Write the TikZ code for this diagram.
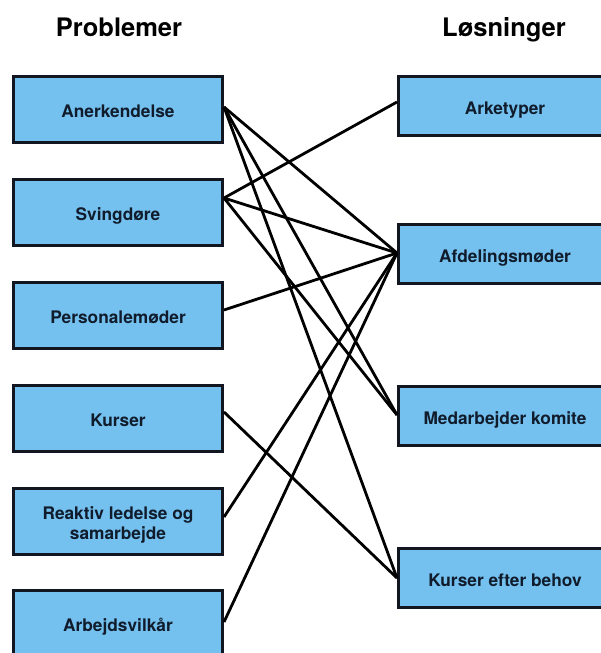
\documentclass[tikz,border=0pt]{standalone}
\usepackage{fontspec}
\setmainfont{TeX Gyre Heros}
\definecolor{boxfill}{RGB}{116,192,238}
\definecolor{boxline}{RGB}{18,22,32}
\definecolor{boxtext}{RGB}{16,28,44}
\begin{document}
\begin{tikzpicture}[x=1pt,y=-1pt,
  box/.style={draw=boxline, line width=3pt, fill=boxfill, inner sep=0pt,
    text=boxtext, font=\fontsize{17.3}{20}\selectfont\bfseries, align=center},
  lbox/.style={box, minimum width=209pt, minimum height=66pt},
  rbox/.style={box, minimum width=213pt, minimum height=59pt},
  oneline/.style={text height=16pt, text depth=0pt},
  coltitle/.style={font=\fontsize{25.5}{28}\selectfont\bfseries, anchor=base},
  link/.style={draw=black, line width=2.8pt}]
\useasboundingbox (0,0) rectangle (600,653);

% column headings
\node[coltitle] (tprob) at (119,36) {Problemer};
\node[coltitle] (tlos) at (504,36) {Løsninger};

% problems
\node[lbox,oneline] (an) at (118,109) {Anerkendelse};
\node[lbox,oneline] (sv) at (118,212) {Svingdøre};
\node[lbox,oneline] (pm) at (118,315) {Personalemøder};
\node[lbox,oneline] (ku) at (118,418) {Kurser};
\node[lbox] (rl) at (118,521) {\rule{0pt}{16pt}Reaktiv ledelse og\\\smash{samarbejde}};
\node[lbox,oneline] (av) at (118,623) {Arbejdsvilkår};

% solutions
\node[rbox,oneline] (ar) at (505,106) {Arketyper};
\node[rbox,oneline] (af) at (505,254) {Afdelingsmøder};
\node[rbox,oneline] (mk) at (505,416) {Medarbejder komite};
\node[rbox,oneline] (kb) at (505,578) {Kurser efter behov};

% links between problems and solutions
\draw[link] ([yshift=2pt]an.east) -- ([yshift=1pt]af.west);
\draw[link] ([yshift=2pt]an.east) -- ([yshift=1pt]mk.west);
\draw[link] ([yshift=2pt]an.east) -- (kb.west);
\draw[link] ([yshift=14pt]sv.east) -- ([yshift=4pt]ar.west);
\draw[link] ([yshift=14pt]sv.east) -- ([yshift=1pt]af.west);
\draw[link] ([yshift=14pt]sv.east) -- ([yshift=1pt]mk.west);
\draw[link] ([yshift=5pt]pm.east) -- ([yshift=1pt]af.west);
\draw[link] ([yshift=6pt]ku.east) -- (kb.west);
\draw[link] ([yshift=4pt]rl.east) -- ([yshift=1pt]af.west);
\draw[link] ([yshift=1pt]av.east) -- ([yshift=1pt]af.west);
\end{tikzpicture}
\end{document}
